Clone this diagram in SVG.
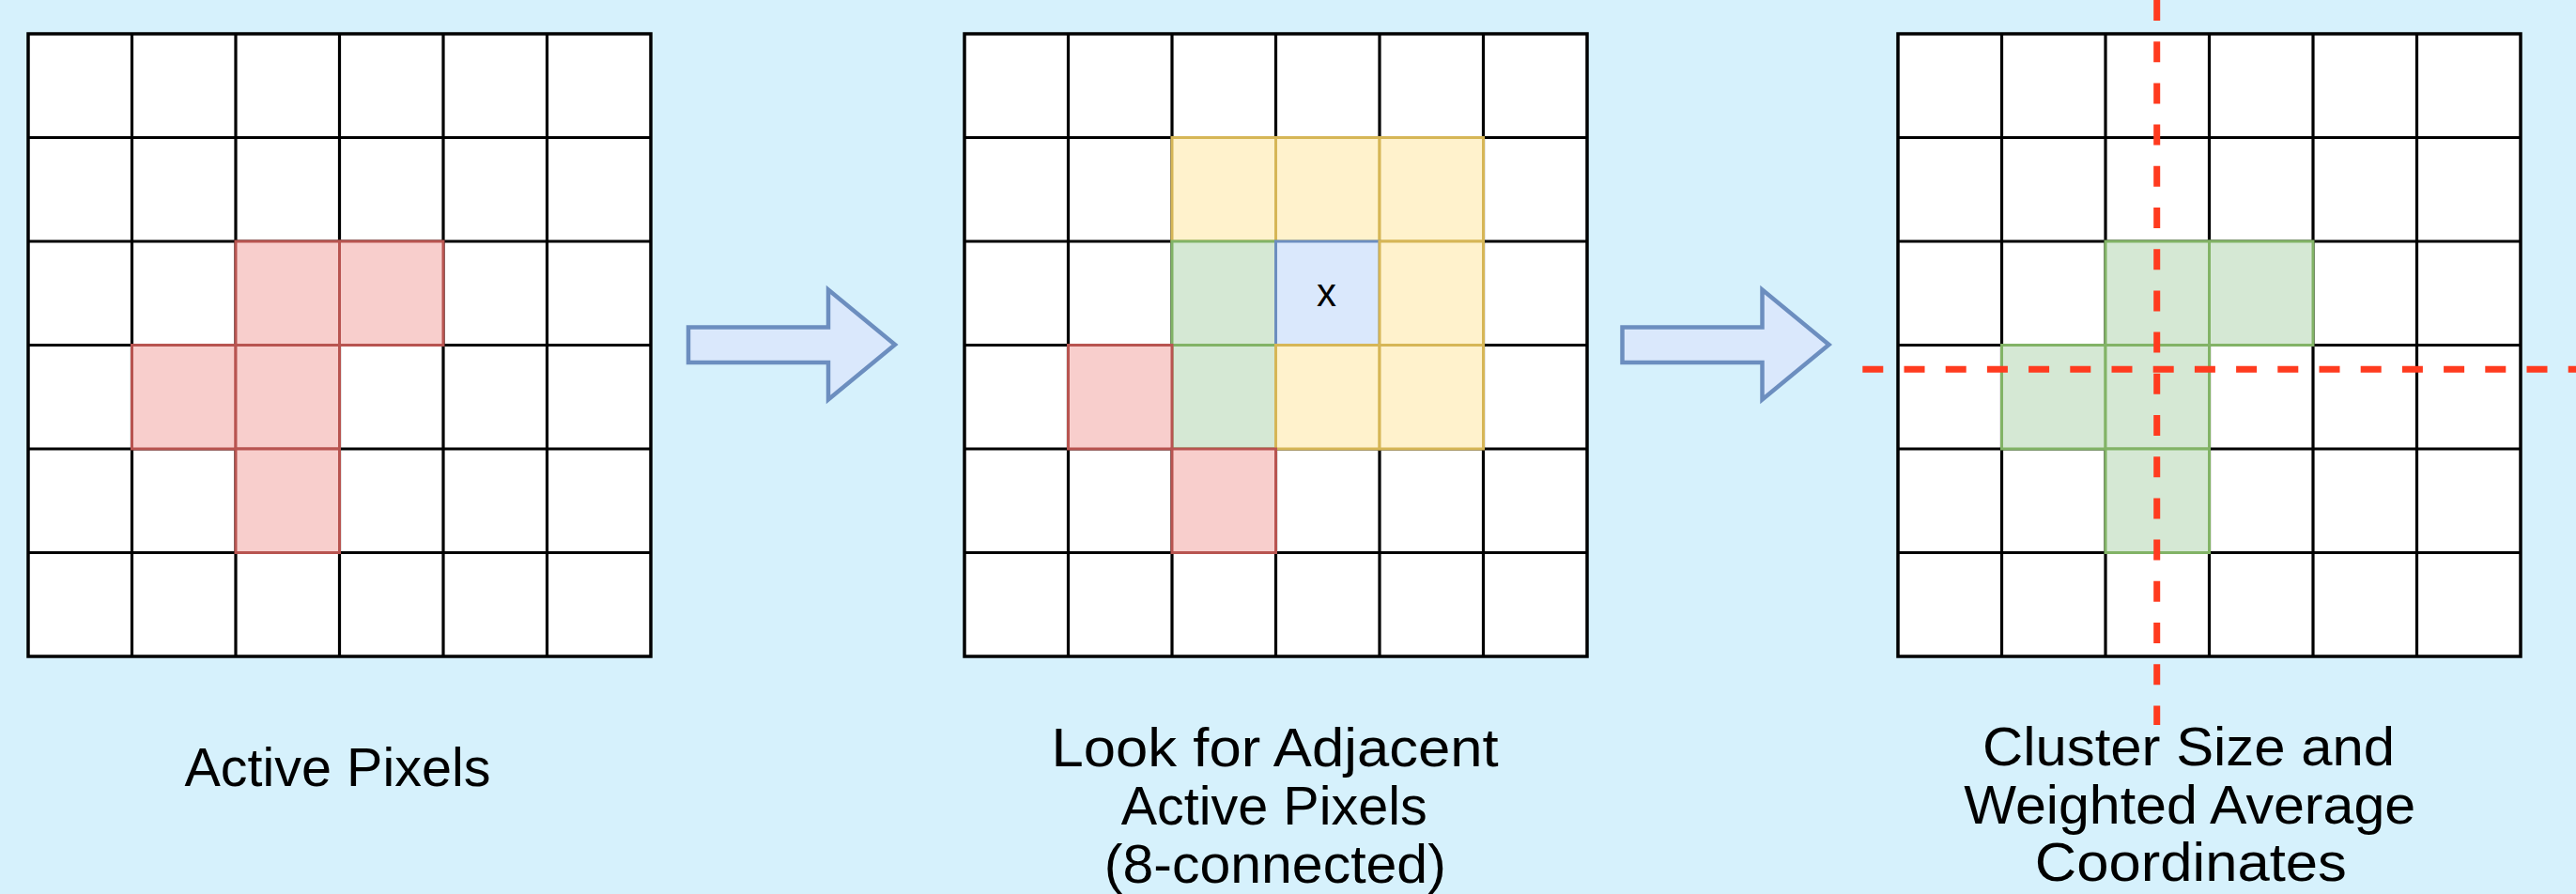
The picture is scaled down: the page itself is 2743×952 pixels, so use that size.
<svg xmlns="http://www.w3.org/2000/svg" xmlns:xlink="http://www.w3.org/1999/xlink" width="2743" height="952" viewBox="0 0 2743 952">
<style>
.bg{fill:#d6f1fc}
.cellr{fill:#f8cecc;stroke:#b85450;stroke-width:3}
.celly{fill:#fff2cc;stroke:#d6b656;stroke-width:3}
.cellg{fill:#d5e8d4;stroke:#82b366;stroke-width:3}
.cellb{fill:#dae8fc;stroke:#6c8ebf;stroke-width:3}
.arrow{fill:#dae8fc;stroke:#6c8ebf;stroke-width:4.5;stroke-linejoin:miter}
.dash{fill:none;stroke:#ff3b1f;stroke-width:7;stroke-dasharray:22 22.2}
.lbl{font-family:"Liberation Sans",Arial,sans-serif;font-size:57px;fill:#000;text-anchor:middle}
.xl{font-family:"Liberation Sans",Arial,sans-serif;font-size:42px;fill:#000;text-anchor:middle}
</style>
<defs>
<g id="grid6">
<rect x="0" y="0" width="663" height="663" fill="#ffffff" stroke="#000" stroke-width="3.5"/>
<path d="M110.5 0V663M221 0V663M331.5 0V663M442 0V663M552.5 0V663M0 110.5H663M0 221H663M0 331.5H663M0 442H663M0 552.5H663" fill="none" stroke="#000" stroke-width="3.2"/>
</g>
</defs>
<rect class="bg" x="0" y="0" width="2743" height="952"/>

<g id="grid-active" transform="translate(30,36)">
<use xlink:href="#grid6"/>
<rect class="cellr" x="221" y="221" width="110.5" height="110.5"/>
<rect class="cellr" x="331.5" y="221" width="110.5" height="110.5"/>
<rect class="cellr" x="110.5" y="331.5" width="110.5" height="110.5"/>
<rect class="cellr" x="221" y="331.5" width="110.5" height="110.5"/>
<rect class="cellr" x="221" y="442" width="110.5" height="110.5"/>
</g>

<g id="grid-adjacent" transform="translate(1027,36)">
<use xlink:href="#grid6"/>
<rect class="celly" x="221" y="110.5" width="110.5" height="110.5"/>
<rect class="celly" x="331.5" y="110.5" width="110.5" height="110.5"/>
<rect class="celly" x="442" y="110.5" width="110.5" height="110.5"/>
<rect class="cellg" x="221" y="221" width="110.5" height="110.5"/>
<rect class="cellg" x="221" y="331.5" width="110.5" height="110.5"/>
<rect class="cellb" x="331.5" y="221" width="110.5" height="110.5"/>
<rect class="celly" x="442" y="221" width="110.5" height="110.5"/>
<rect class="celly" x="331.5" y="331.5" width="110.5" height="110.5"/>
<rect class="celly" x="442" y="331.5" width="110.5" height="110.5"/>
<rect class="cellr" x="110.5" y="331.5" width="110.5" height="110.5"/>
<rect class="cellr" x="221" y="442" width="110.5" height="110.5"/>
<text class="xl" x="385.5" y="290">x</text>
</g>

<g id="grid-cluster" transform="translate(2021,36)">
<use xlink:href="#grid6"/>
<rect class="cellg" x="221" y="221" width="110.5" height="110.5"/>
<rect class="cellg" x="331.5" y="221" width="110.5" height="110.5"/>
<rect class="cellg" x="110.5" y="331.5" width="110.5" height="110.5"/>
<rect class="cellg" x="221" y="331.5" width="110.5" height="110.5"/>
<rect class="cellg" x="221" y="442" width="110.5" height="110.5"/>
</g>

<g id="connectors">
<polygon id="arrow1" class="arrow" points="733,348.5 882,348.5 882,308.5 953,367 882,425.5 882,386 733,386"/>
<polygon id="arrow2" class="arrow" transform="translate(994.5,0)" points="733,348.5 882,348.5 882,308.5 953,367 882,425.5 882,386 733,386"/>
</g>

<g id="centroid-lines">
<line class="dash" x1="2296.7" y1="0" x2="2296.7" y2="772"/>
<line class="dash" x1="1983.3" y1="393.3" x2="2760" y2="393.3"/>
</g>

<g id="labels">
<text class="lbl" x="359.5" y="837" textLength="326" lengthAdjust="spacingAndGlyphs">Active Pixels</text>
<text class="lbl" x="1357.6" y="816" textLength="476" lengthAdjust="spacingAndGlyphs">Look for Adjacent</text>
<text class="lbl" x="1356.7" y="877.7" textLength="326" lengthAdjust="spacingAndGlyphs">Active Pixels</text>
<text class="lbl" x="1357.8" y="940" textLength="364" lengthAdjust="spacingAndGlyphs">(8-connected)</text>
<text class="lbl" x="2330.5" y="815" textLength="439" lengthAdjust="spacingAndGlyphs">Cluster Size and</text>
<text class="lbl" x="2331.7" y="876.7" textLength="481" lengthAdjust="spacingAndGlyphs">Weighted Average</text>
<text class="lbl" x="2332.8" y="938.3" textLength="332" lengthAdjust="spacingAndGlyphs">Coordinates</text>
</g>
</svg>
